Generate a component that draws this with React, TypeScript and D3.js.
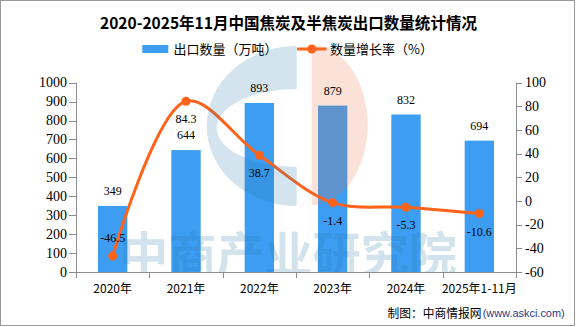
import React from 'react';
import * as d3 from 'd3';

const categories = ['2020年', '2021年', '2022年', '2023年', '2024年', '2025年1-11月'];
const exportVolume = [349, 644, 893, 879, 832, 694];
const growthRate = [-46.5, 84.3, 38.7, -1.4, -5.3, -10.6];
const leftTicks = [0, 100, 200, 300, 400, 500, 600, 700, 800, 900, 1000];
const rightTicks = [-60, -40, -20, 0, 20, 40, 60, 80, 100];
const titleText = '2020-2025年11月中国焦炭及半焦炭出口数量统计情况';
const legendBarText = '出口数量（万吨）';
const legendLineText = '数量增长率（%）';
const sourceText = '制图：中商情报网';
const sourceUrl = '(www.askci.com)';
const watermarkText = '中商产业研究院';

const W = 576;
const H = 327;
const BAR = '#3d9df2';
const LINE = '#ff6219';
const AXIS = '#8c8c8c';
const SERIF = '"Liberation Serif", "DejaVu Serif", serif';
const CJK = '"Noto Sans CJK SC", "Noto Sans", sans-serif';

export default function App() {
  const left = 76, right = 516, top = 82.7, bottom = 272;
  const x = d3.scaleBand<string>().domain(categories).range([left, right]).paddingInner(0.6).paddingOuter(0.3);
  const step = x.step();
  const yL = d3.scaleLinear().domain([0, 1000]).range([bottom, top]);
  const yR = d3.scaleLinear().domain([-60, 100]).range([bottom, top]);
  const cx = (c: string) => (x(c) as number) + x.bandwidth() / 2;

  const pts: [number, number][] = categories.map((c, i) => [cx(c), yR(growthRate[i])]);
  const linePath = d3.line().curve(d3.curveCatmullRom.alpha(0.5))(pts) || '';

  const boundaries = d3.range(categories.length + 1).map((i) => left + i * step);

  return (
    <svg width={W} height={H} style={{ position: 'fixed', left: 0, top: 0, background: '#fff' }}>
      <defs>
        <clipPath id="plotClip">
          <rect x={0} y={0} width={W} height={bottom} />
        </clipPath>
      </defs>
      <rect x={0} y={0} width={W} height={H} fill="#fff" />
      <rect x={0.5} y={0.5} width={574} height={325} fill="none" stroke="#999" />

      {/* title */}
      <text x={288.5} y={28.5} textAnchor="middle" fontFamily={CJK} fontWeight="bold" fontSize={16}
        textLength={377} lengthAdjust="spacingAndGlyphs" fill="#000">{titleText}</text>

      {/* legend */}
      <rect x={142.3} y={45} width={26} height={8} fill={BAR} />
      <text x={173.5} y={53.6} fontFamily={CJK} fontSize={13} fill="#000">{legendBarText}</text>
      <line x1={297} x2={326.5} y1={49} y2={49} stroke={LINE} strokeWidth={3} />
      <circle cx={311.8} cy={49} r={4.5} fill={LINE} />
      <text x={330} y={53.6} fontFamily={CJK} fontSize={13} fill="#000">{legendLineText}</text>

      {/* bars */}
      {categories.map((c, i) => (
        <rect key={c} x={x(c)} y={yL(exportVolume[i])} width={x.bandwidth()} height={bottom - yL(exportVolume[i])} fill={BAR} />
      ))}

      {/* line */}
      <path d={linePath} fill="none" stroke={LINE} strokeWidth={3} />
      {pts.map((p, i) => (
        <circle key={i} cx={p[0]} cy={p[1]} r={4.5} fill={LINE} />
      ))}

      {/* watermark */}
      <g>
        <path d="M296.7,46 A90,80 0 0 0 296.7,206 L296.7,167 A80,39 0 0 1 296.7,89 Z" fill="rgb(40,120,170)" opacity={0.2} />
        <path d="M311.7,45 A56,80 0 0 1 311.7,205 Z" fill="rgb(235,110,60)" opacity={0.2} />
        <g clipPath="url(#plotClip)">
          <text x={120} y={272} fontFamily={CJK} fontWeight="bold" fontSize={48} fill="rgb(40,120,170)" opacity={0.2}
            textLength={337} lengthAdjust="spacingAndGlyphs">{watermarkText}</text>
        </g>
      </g>

      {/* bar labels */}
      {categories.map((c, i) => (
        <text key={c} x={cx(c)} y={yL(exportVolume[i]) - 11} textAnchor="middle" fontFamily={SERIF} fontSize={12} fill="#000">
          {exportVolume[i]}
        </text>
      ))}
      {/* line labels */}
      {categories.map((c, i) => {
        const above = growthRate[i] < -30;
        return (
          <text key={c} x={cx(c)} y={yR(growthRate[i]) + (above ? -14 : 22)} textAnchor="middle" fontFamily={SERIF} fontSize={12} fill="#000">
            {growthRate[i].toFixed(1)}
          </text>
        );
      })}

      {/* left axis */}
      <line x1={left + 0.5} x2={left + 0.5} y1={top} y2={bottom} stroke={AXIS} />
      {leftTicks.map((t) => (
        <g key={t}>
          <line x1={left - 7} x2={left + 0.5} y1={Math.round(yL(t)) + 0.5} y2={Math.round(yL(t)) + 0.5} stroke={AXIS} />
          <text x={left - 9} y={yL(t) + 4.5} textAnchor="end" fontFamily={SERIF} fontSize={14} fill="#000">{t}</text>
        </g>
      ))}

      {/* right axis */}
      <line x1={right + 0.5} x2={right + 0.5} y1={top} y2={bottom} stroke={AXIS} />
      {rightTicks.map((t) => (
        <g key={t}>
          <line x1={right + 0.5} x2={right + 6} y1={Math.round(yR(t)) + 0.5} y2={Math.round(yR(t)) + 0.5} stroke={AXIS} />
          <text x={right + 9} y={yR(t) + 4.5} textAnchor="start" fontFamily={SERIF} fontSize={14} fill="#000">{t}</text>
        </g>
      ))}

      {/* x axis */}
      <line x1={left} x2={right + 1} y1={bottom + 0.5} y2={bottom + 0.5} stroke={AXIS} />
      {boundaries.map((b, i) => (
        <line key={i} x1={Math.round(b) + 0.5} x2={Math.round(b) + 0.5} y1={bottom} y2={bottom + 6} stroke={AXIS} />
      ))}
      {categories.map((c) => (
        <text key={c} x={cx(c)} y={293} textAnchor="middle" fontFamily={CJK} fontSize={12} fill="#000">{c}</text>
      ))}

      {/* source */}
      <text x={387.5} y={317.5} fontFamily={CJK} fontSize={12} fill="#000" textLength={94} lengthAdjust="spacingAndGlyphs">{sourceText}</text>
      <text x={482.7} y={317} fontFamily='"Liberation Sans", sans-serif' fontSize={11} fill="#1f3c88" textLength={82} lengthAdjust="spacingAndGlyphs">{sourceUrl}</text>
    </svg>
  );
}
